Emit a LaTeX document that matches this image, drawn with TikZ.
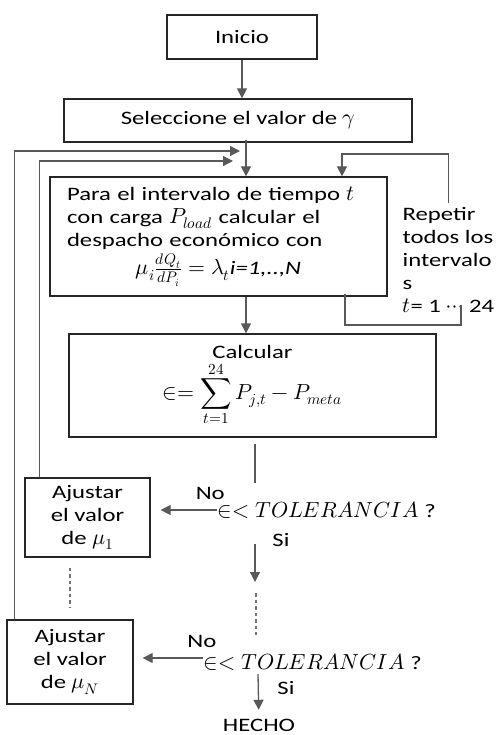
\documentclass[tikz,border=0pt]{standalone}
\usepackage{fontspec}
\usepackage{unicode-math}
\setmainfont{Carlito}[FakeStretch=1.3]
\setmathfont{Latin Modern Math}[Scale=1.15]
\usetikzlibrary{arrows.meta, positioning, calc}
\tikzset{
  every picture/.style={line width=1.3pt},
  every node/.style={font=\fontsize{19}{23}\selectfont},
  box/.style={draw=black!85, rectangle, inner sep=0pt},
  conn/.style={draw=black!65},
  dots/.style={draw=black!55, line width=2.2pt, dash pattern=on 3.5pt off 3pt},
  >={Triangle[width=10pt,length=10pt]}
}

\begin{document}
\begin{tikzpicture}[x=1pt, y=-1pt, tips=proper]
    \useasboundingbox (0,0) rectangle (498,735);

    \node [box, minimum width=150pt, minimum height=44pt] (inicio) at (242,37) {Inicio};
    \node [box, minimum width=348pt, minimum height=43pt] (valor) at (238,120.5) {Seleccione el valor de $\gamma$};

    \node [box, minimum width=337pt, minimum height=119pt, text width=303pt, inner xsep=17pt, align=left] (intervalo) at (218.5,236.5)
      {Para el intervalo de tiempo $t$\\con carga $P_{load}$ calcular el\\despacho económico con\\[3pt]\makebox[\linewidth]{$\mu_i\frac{dQ_t}{dP_i}=\lambda_t$\textit{i=1,..,N}}};

    \node [anchor=north west, inner sep=0pt, align=left] (repetir) at (402,207) {Repetir\\todos los\\intervalo\\s\\$t$= 1 $\cdots$ 24};

    \node [box, minimum width=367pt, minimum height=103pt, align=center] (calcular) at (252.5,385.5)
      {Calcular\\[2pt]$\displaystyle\in=\sum_{t=1}^{24}P_{j,t}-P_{meta}$};

    \node [box, minimum width=125pt, minimum height=79pt, align=center] (ajuste1) at (87.5,517.5) {Ajustar\\el valor\\de $\mu_1$};
    \node [box, minimum width=126pt, minimum height=84pt, align=center] (ajusteN) at (70,662) {Ajustar\\el valor\\de $\mu_N$};

    \node [anchor=west, inner sep=0pt] (tol1) at (217,510) {$\in<TOLERANCIA$ ?};
    \node [anchor=west, inner sep=0pt] (tolN) at (203,662) {$\in<TOLERANCIA$ ?};

    \node (si1) at (281,540) {Si};
    \node (siN) at (286,688) {Si};
    \node (hecho) at (259,725) {HECHO};

    \coordinate (spine) at (246,160);
    \coordinate (backOut) at (240,151);
    \coordinate (backIn) at (233,161);
    \coordinate (repTop) at (342,154);
    \coordinate (repLow) at (345,325);
    \coordinate (repEnd) at (461,325);
    \coordinate (repTip) at (461,305);
    \coordinate (gap) at (255,483);
    \coordinate (dotTop) at (255,582);
    \coordinate (dotA) at (256,593);
    \coordinate (dotB) at (256,635);

    \draw [conn, ->] (inicio) -- (inicio |- valor.north);
    \draw [conn, ->] ([yshift=3pt]valor.south -| spine) -- (intervalo.north -| spine);

    \draw [conn, ->] ([xshift=8pt]ajusteN.north west) |- (backOut);
    \draw [conn, ->] ([xshift=15pt]ajuste1.north west) |- (backIn);

    \draw [conn, ->] ([yshift=4pt]repetir.north) |- (repTop) -- (repTop |- intervalo.north);
    \draw [conn] ([yshift=3pt]intervalo.south -| repLow) -- (repLow) -- (repEnd) -- (repTip);

    \draw [conn, ->] (intervalo.south -| spine) -- (calcular.north -| spine);
    \draw [conn] ([yshift=-6pt]calcular.south -| gap) -- (gap);

    \draw [conn, ->] (tol1.west) -- ([xshift=10pt]tol1.west -| ajuste1.east) node [pos=0.12, above=6pt] {No};
    \draw [conn, ->, shorten <=25pt] (tol1.south -| gap) -- (dotTop);
    \draw [dots] (dotA) -- (dotB);
    \draw [dots] ([yshift=-10pt]ajuste1.south -| ajusteN.north) -- ([yshift=12pt]ajusteN.north);

    \draw [conn, ->] ([yshift=4pt]tolN.west) -- ([xshift=9pt,yshift=4pt]tolN.west -| ajusteN.east) node [pos=0.02, above=6pt] {No};
    \draw [conn, ->, shorten >=5pt] ([xshift=55pt,yshift=-3pt]tolN.south west) -- (hecho);
  \end{tikzpicture}
\end{document}
